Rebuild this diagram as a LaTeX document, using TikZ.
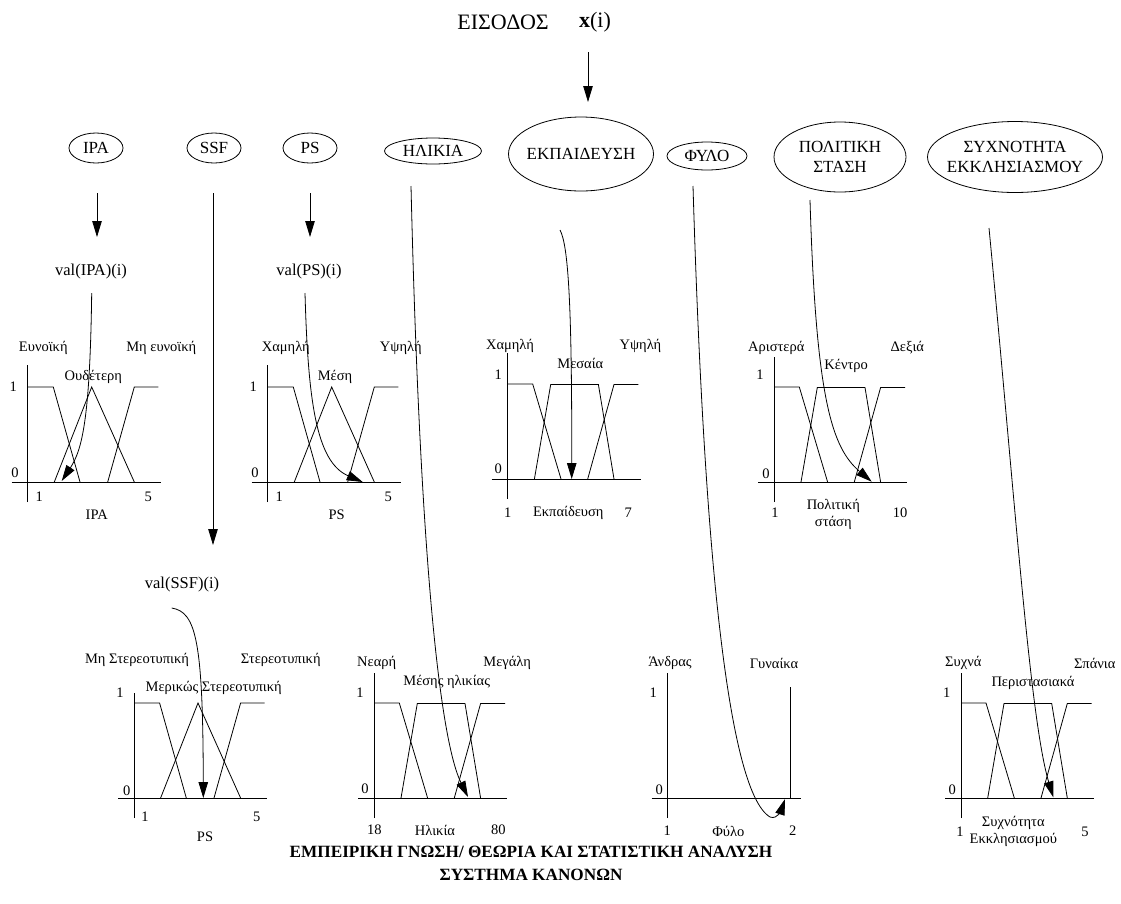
\documentclass[tikz,border=0pt]{standalone}
\usepackage{fontspec}
\setmainfont{Liberation Serif}
\usetikzlibrary{arrows.meta}

% membership-function sets drawn relative to a chart origin (y grows downward)
\newcommand\fzaxes[1]{\draw[ln] (-16,0) -- (133,0); \draw[ln] (0,20) -- (0,-#1);}
\newcommand\fztri{%
  \draw[ln] (0,-95) -- (25.6,-95) -- (52.3,0);
  \draw[ln] (26.6,0) -- (64,-95) -- (106.6,0);
  \draw[ln] (80,0) -- (106.6,-95) -- (130.6,-95);}
\newcommand\fztrap{%
  \draw[ln] (0,-95) -- (25,-95) -- (53.3,0);
  \draw[ln] (26.7,0) -- (43,-94.5) -- (90.7,-94.5) -- (106.3,0);
  \draw[ln] (80,0) -- (106.3,-94.5) -- (130.7,-94.5);}
\newcommand\varring[3]{\draw[ln] (#1) ellipse [x radius=#2, y radius=#3];}

\begin{document}
\begin{tikzpicture}[x=1pt,y=-1pt,
  every node/.style={font=\fontsize{14.5}{17}\selectfont, inner sep=0pt},
  var/.style={font=\fontsize{17}{20}\selectfont, align=center},
  crisp/.style={font=\fontsize{16.5}{18}\selectfont},
  ln/.style={line width=0.8pt},
  arr/.style={line width=0.8pt, -{Triangle[length=16pt,width=9.5pt]}},
]
\useasboundingbox (0,0) rectangle (1121,903);

% input
\node (inp) at (503,22) {\fontsize{22}{24}\selectfont ΕΙΣΟΔΟΣ};
\node (xi) at (595,22) {\fontsize{22}{24}\selectfont\textbf{x}(i)};
\coordinate (inA) at (588,52);
\coordinate (inB) at (588,102);
\draw[arr] (inA) -- (inB);

% input variables
\node[var] (ipa) at (96,148) {IPA};          \varring{ipa}{27}{15}
\node[var] (ssf) at (214,148) {SSF};         \varring{ssf}{27}{15}
\node[var] (ps)  at (310,148) {PS};          \varring{ps}{27}{15}
\node[var] (age) at (433,151) {ΗΛΙΚΙΑ};      \varring{age}{48.5}{13}
\node[var] (edu) at (581,154) {ΕΚΠΑΙΔΕΥΣΗ};  \varring{edu}{72.5}{37}
\node[var] (sex) at (707,156) {ΦΥΛΟ};        \varring{sex}{40}{14}
\node[var] (pol) at (840,157) {ΠΟΛΙΤΙΚΗ\\ΣΤΑΣΗ};            \varring{pol}{66}{35}
\node[var] (frq) at (1015,157) {ΣΥΧΝΟΤΗΤΑ\\ΕΚΚΛΗΣΙΑΣΜΟΥ};   \varring{frq}{87.5}{35.5}

% crisp values
\node[crisp] (vipa) at (91,272) {val(IPA)(i)};
\node[crisp] (vps)  at (309,272) {val(PS)(i)};
\node[crisp] (vssf) at (182,585) {val(SSF)(i)};

% ---- IPA chart
\begin{scope}[shift={(27.7,482)}] \fzaxes{117} \fztri \end{scope}
\node at (43.3,348) {Ευνοϊκή};
\node at (161.3,348) {Μη ευνοϊκή};
\node at (93.3,377) {Ουδέτερη};
\node at (13.3,387) {1};
\node at (15,473) {0};
\node at (39.3,497) {1};
\node at (148.3,497) {5};
\node at (96.7,515) {IPA};

% ---- PS chart
\begin{scope}[shift={(267.7,482)}] \fzaxes{117} \fztri \end{scope}
\node at (285.8,348) {Χαμηλή};
\node at (400.8,348) {Υψηλή};
\node at (335,377) {Μέση};
\node at (253.3,387) {1};
\node at (255,473) {0};
\node at (279.3,497) {1};
\node at (388.3,497) {5};
\node at (336.7,515) {PS};

% ---- education chart
\begin{scope}[shift={(507.7,479)}] \fzaxes{126} \fztrap \end{scope}
\node at (510,346) {Χαμηλή};
\node at (640.5,346) {Υψηλή};
\node at (580.3,363) {Μεσαία};
\node at (498.3,375) {1};
\node at (498.3,469) {0};
\node at (507.7,513) {1};
\node at (568.3,513) {Εκπαίδευση};
\node at (628.3,513) {7};

% ---- political stance chart
\begin{scope}[shift={(774.3,482)}] \fzaxes{125} \fztrap \end{scope}
\node at (776.3,348) {Αριστερά};
\node at (907.3,348) {Δεξιά};
\node at (846.2,366) {Κέντρο};
\node at (760,375) {1};
\node at (766,474) {0};
\node at (775,513) {1};
\node[align=center] at (833.3,514) {Πολιτική\\στάση};
\node at (900,513) {10};

% ---- SSF chart
\begin{scope}[shift={(134,798)}] \fzaxes{105} \fztri \end{scope}
\node at (137,660) {Μη Στερεοτυπική};
\node at (280.7,660) {Στερεοτυπική};
\node at (213.7,688) {Μερικώς Στερεοτυπική};
\node at (120,693) {1};
\node at (126.7,791) {0};
\node at (145,817) {1};
\node at (256.7,817) {5};
\node at (205,837) {PS};

% ---- age chart
\begin{scope}[shift={(374.3,798)}] \fzaxes{125} \fztrap \end{scope}
\node at (376.7,663) {Νεαρή};
\node at (507.2,663) {Μεγάλη};
\node at (446.7,682) {Μέσης ηλικίας};
\node at (360,693) {1};
\node at (365,789) {0};
\node at (374.3,830) {18};
\node at (435,830) {Ηλικία};
\node at (498.3,830) {80};

% ---- gender chart
\begin{scope}[shift={(667.7,798)}]
  \fzaxes{125}
  \draw[ln] (122.3,0) -- (122.3,-111.3);
\end{scope}
\node at (670,663) {Άνδρας};
\node at (774,663) {Γυναίκα};
\node at (653.3,693) {1};
\node at (659.3,790) {0};
\node at (667.3,831) {1};
\node at (728.3,831) {Φύλο};
\node at (792.7,831) {2};

% ---- church attendance chart
\begin{scope}[shift={(961,798)}] \fzaxes{125} \fztrap \end{scope}
\node at (963.3,663) {Συχνά};
\node at (1094.7,663) {Σπάνια};
\node at (1033,683) {Περιστασιακά};
\node at (946.7,693) {1};
\node at (952.3,790) {0};
\node at (960,832) {1};
\node[align=center] at (1013.3,831) {Συχνότητα\\Εκκλησιασμού};
\node at (1085,832) {5};

% ---- connectors
\coordinate (ipaA) at (97,193);   \coordinate (ipaB) at (97,237);
\coordinate (psA) at (310,193);   \coordinate (psB) at (310,237);
\coordinate (ssfA) at (213,193);  \coordinate (ssfB) at (213,545);
\draw[arr] (ipaA) -- (ipaB);
\draw[arr] (psA) -- (psB);
\draw[arr] (ssfA) -- (ssfB);

\coordinate (ipaHit) at (61.7,481);
\coordinate (psHit) at (362.7,482);
\coordinate (ssfHit) at (203.3,798);
\draw[arr] (91.7,293) .. controls (90,420) and (82,450) .. (ipaHit);
\draw[arr] (305,293) .. controls (308,400) and (316,462) .. (psHit);
\draw[arr] (171.7,608) .. controls (196,612) and (203,640) .. (ssfHit);

\coordinate (ageA) at (411,186);  \coordinate (ageHit) at (468,797);
\coordinate (eduA) at (560,230);  \coordinate (eduHit) at (571.7,479);
\coordinate (sexA) at (693,186);  \coordinate (sexHit) at (785,799);
\coordinate (polA) at (810,200);  \coordinate (polHit) at (871.7,481.7);
\coordinate (frqA) at (989,228);  \coordinate (frqHit) at (1053.3,797.3);
\draw[arr] (ageA) .. controls (420,560) and (440,740) .. (ageHit);
\draw[arr] (eduA) .. controls (568,245) and (572,300) .. (eduHit);
\draw[arr] (sexA) .. controls (703,520) and (725,790) .. (770,817)
                  .. controls (778,820) and (782,808) .. (sexHit);
\draw[arr] (polA) .. controls (816,400) and (832,448) .. (polHit);
\draw[arr] (frqA) .. controls (1015,500) and (1030,720) .. (frqHit);

% knowledge base caption
\node[font=\bfseries\fontsize{17.2}{23}\selectfont, align=center] (kb) at (531,863)
  {ΕΜΠΕΙΡΙΚΗ ΓΝΩΣΗ/ ΘΕΩΡΙΑ ΚΑΙ ΣΤΑΤΙΣΤΙΚΗ ΑΝΑΛΥΣΗ\\ΣΥΣΤΗΜΑ ΚΑΝΟΝΩΝ};
\end{tikzpicture}
\end{document}
